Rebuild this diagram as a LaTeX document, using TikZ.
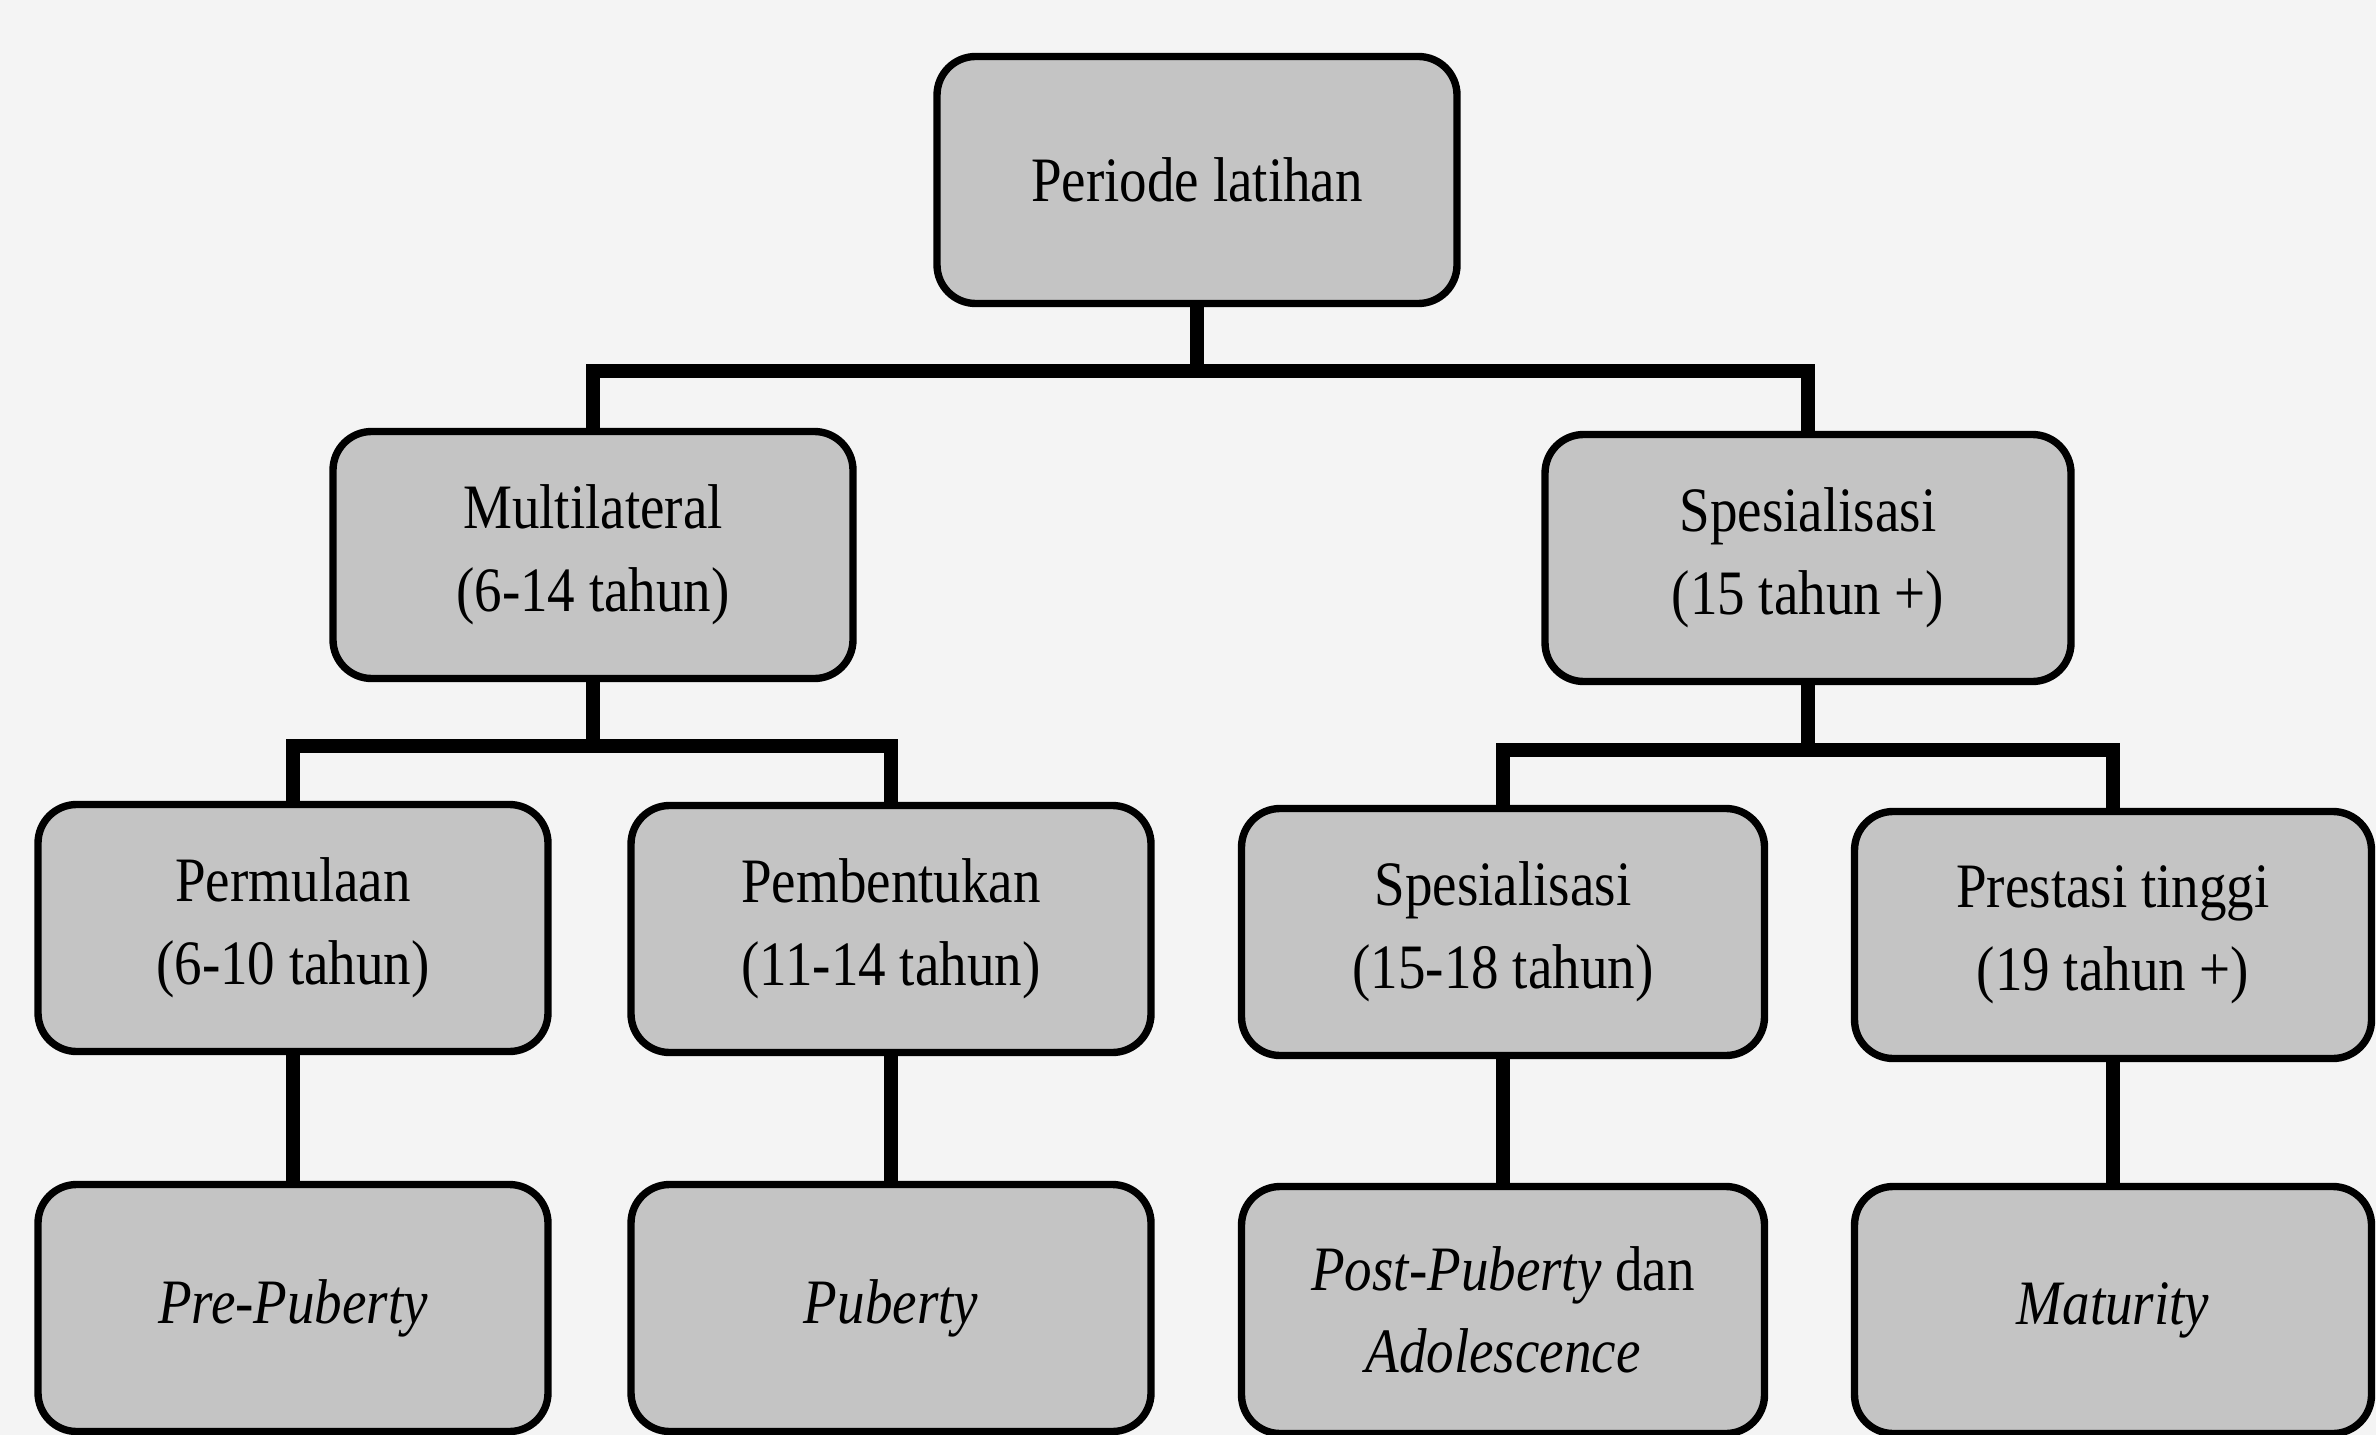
\documentclass[tikz,border=0pt]{standalone}
\usepackage{fontspec}
\setmainfont{Liberation Serif}[FakeStretch=0.87]
\usepackage{tikz}
\usetikzlibrary{calc,backgrounds}
\definecolor{paper}{RGB}{244,244,244}
\definecolor{dotgrey}{RGB}{196,196,196}

\tikzset{
  box/.style={draw=black, line width=2.1pt, fill=dotgrey, rounded corners=11pt,
    minimum width=5.2cm, minimum height=2.47cm, align=center,
    font=\fontsize{18}{23.5}\selectfont},
  link/.style={line width=4.2pt},
}

\begin{document}
\begin{tikzpicture}
    \useasboundingbox (0,0) rectangle (23.76,-14.35);

    % Bar levels
    \coordinate (bartop) at (0,-3.71);
    \coordinate (barleft) at (0,-7.46);
    \coordinate (barright) at (0,-7.50);

    % Root
    \node[box] (periode) at (11.97,-1.80) {Periode latihan};

    % Second level
    \node[box] (multi) at (5.93,-5.55) {Multilateral\\(6-14 tahun)};
    \node[box, minimum width=5.26cm] (spes) at (18.08,-5.58)
      {Spesialisasi\\(15 tahun +)};

    % Third level
    \node[box, minimum width=5.1cm] (mula) at (2.93,-9.28)
      {Permulaan\\(6-10 tahun)};
    \node[box] (bentuk) at (8.91,-9.29) {Pembentukan\\(11-14 tahun)};
    \node[box, minimum width=5.23cm] (spes2) at (15.03,-9.32)
      {Spesialisasi\\(15-18 tahun)};
    \node[box, minimum width=5.17cm] (prestasi) at (21.13,-9.35)
      {Prestasi tinggi\\(19 tahun +)};

    % Fourth level
    \node[box, minimum width=5.1cm] (pre) at (2.93,-13.08)
      {\itshape Pre-Puberty};
    \node[box] (pub) at (8.91,-13.08) {\itshape Puberty};
    \node[box, minimum width=5.23cm] (post) at (15.03,-13.10)
      {\textit{Post-Puberty} dan\\\textit{Adolescence}};
    \node[box, minimum width=5.17cm] (matur) at (21.13,-13.10)
      {\itshape Maturity};

    % Paper and connectors, behind the boxes
    \begin{scope}[on background layer]
      \fill[paper] (0,0) rectangle (23.76,-14.35);
      \draw[link] (periode) -- (periode |- bartop) -| (multi);
      \draw[link] (periode |- bartop) -| (spes);
      \draw[link] (multi) -- (multi |- barleft) -| (mula);
      \draw[link] (multi |- barleft) -| (bentuk);
      \draw[link] (spes) -- (spes |- barright) -| (spes2);
      \draw[link] (spes |- barright) -| (prestasi);
      \draw[link] (mula) -- (pre);
      \draw[link] (bentuk) -- (pub);
      \draw[link] (spes2) -- (post);
      \draw[link] (prestasi) -- (matur);
    \end{scope}
\end{tikzpicture}
\end{document}
